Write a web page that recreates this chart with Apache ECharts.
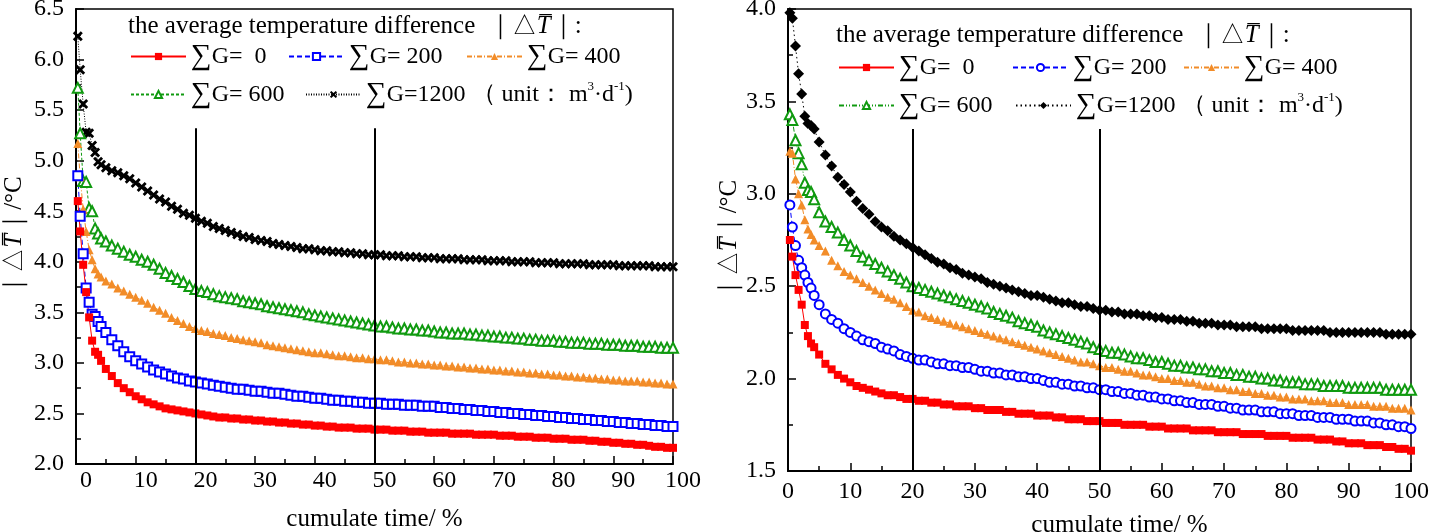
<!DOCTYPE html>
<html><head><meta charset="utf-8">
<script src="https://cdn.jsdelivr.net/npm/echarts@6/dist/echarts.min.js"></script>
<style>html,body{margin:0;padding:0;background:#fff}#c{width:1431px;height:532px}</style>
</head><body><div id="c"></div>
<script>
// shared x positions (cumulate time, %)
const X = [0.3,0.7,1.2,1.7,2.2,2.7,3.2,3.7,4.2,
5,6,7,8,9,10,11,12,13,14,
15,16,17,18,19,20,21,22,23,24,
25,26,27,28,29,30,31,32,33,34,
35,36,37,38,39,40,41,42,43,44,
45,46,47,48,49,50,51,52,53,54,
55,56,57,58,59,60,61,62,63,64,
65,66,67,68,69,70,71,72,73,74,
75,76,77,78,79,80,81,82,83,84,
85,86,87,88,89,90,91,92,93,94,
95,96,97,98,99,100];

// LEFT chart
const L0 = [4.60,4.30,3.97,3.70,3.45,3.22,3.11,3.08,3.02,
2.94,2.87,2.80,2.75,2.71,2.67,2.64,2.61,2.59,2.57,
2.55,2.54,2.53,2.52,2.51,2.50,2.49,2.48,2.47,2.46,
2.46,2.45,2.45,2.44,2.44,2.43,2.43,2.42,2.42,2.41,
2.41,2.40,2.40,2.39,2.39,2.38,2.38,2.37,2.37,2.36,
2.36,2.36,2.35,2.35,2.35,2.34,2.34,2.34,2.33,2.33,
2.33,2.32,2.32,2.32,2.31,2.31,2.31,2.31,2.30,2.30,
2.30,2.30,2.29,2.29,2.29,2.29,2.28,2.28,2.28,2.27,
2.27,2.27,2.26,2.26,2.26,2.25,2.25,2.25,2.24,2.24,
2.24,2.23,2.23,2.22,2.22,2.21,2.21,2.20,2.20,2.19,
2.19,2.18,2.17,2.17,2.16,2.16];
const L200 = [4.85,4.45,4.08,3.74,3.60,3.48,3.46,3.41,3.36,
3.30,3.23,3.17,3.11,3.06,3.02,2.99,2.96,2.93,2.91,
2.89,2.87,2.85,2.84,2.82,2.81,2.80,2.79,2.78,2.77,
2.76,2.75,2.74,2.74,2.73,2.72,2.72,2.71,2.70,2.70,
2.69,2.68,2.67,2.67,2.66,2.65,2.65,2.64,2.63,2.63,
2.62,2.62,2.61,2.61,2.60,2.60,2.60,2.59,2.59,2.59,
2.58,2.58,2.58,2.57,2.57,2.57,2.56,2.56,2.55,2.55,
2.54,2.54,2.53,2.53,2.52,2.52,2.51,2.51,2.50,2.50,
2.49,2.49,2.48,2.48,2.47,2.47,2.46,2.46,2.45,2.45,
2.44,2.44,2.43,2.43,2.42,2.42,2.41,2.41,2.40,2.40,
2.39,2.39,2.38,2.38,2.37,2.37];
const L400 = [5.17,4.84,4.52,4.30,4.12,4.02,3.93,3.88,3.85,
3.81,3.78,3.74,3.71,3.68,3.65,3.62,3.59,3.55,3.52,
3.49,3.45,3.42,3.39,3.36,3.34,3.32,3.31,3.29,3.28,
3.27,3.25,3.24,3.23,3.22,3.21,3.20,3.18,3.17,3.16,
3.15,3.14,3.13,3.12,3.11,3.10,3.10,3.09,3.08,3.07,
3.07,3.06,3.05,3.05,3.04,3.04,3.03,3.03,3.02,3.01,
3.01,3.00,3.00,2.99,2.99,2.98,2.98,2.97,2.97,2.96,
2.96,2.95,2.95,2.94,2.94,2.93,2.93,2.92,2.92,2.91,
2.91,2.90,2.90,2.89,2.89,2.88,2.88,2.87,2.87,2.86,
2.86,2.85,2.85,2.84,2.84,2.83,2.83,2.82,2.82,2.82,
2.81,2.81,2.80,2.80,2.79,2.79];
const L600 = [5.72,5.27,4.80,4.79,4.53,4.50,4.33,4.28,4.23,
4.20,4.16,4.13,4.10,4.07,4.05,4.02,4.00,3.97,3.93,
3.89,3.86,3.83,3.80,3.76,3.73,3.71,3.70,3.68,3.66,
3.65,3.64,3.63,3.61,3.60,3.59,3.58,3.56,3.55,3.54,
3.53,3.52,3.51,3.50,3.48,3.47,3.46,3.45,3.44,3.43,
3.42,3.41,3.40,3.39,3.38,3.37,3.36,3.36,3.35,3.34,
3.34,3.33,3.33,3.32,3.32,3.31,3.30,3.30,3.29,3.29,
3.29,3.28,3.28,3.27,3.27,3.26,3.26,3.25,3.25,3.24,
3.24,3.23,3.23,3.22,3.22,3.22,3.21,3.21,3.20,3.20,
3.20,3.19,3.19,3.19,3.18,3.18,3.18,3.17,3.17,3.17,
3.16,3.16,3.16,3.15,3.15,3.15];
const L1200 = [6.23,5.90,5.56,5.28,5.27,5.15,5.08,4.99,4.96,
4.93,4.90,4.88,4.85,4.82,4.78,4.74,4.70,4.66,4.62,
4.59,4.55,4.52,4.48,4.46,4.43,4.40,4.38,4.35,4.33,
4.31,4.29,4.27,4.25,4.24,4.22,4.21,4.20,4.18,4.17,
4.16,4.15,4.14,4.13,4.13,4.12,4.11,4.11,4.10,4.10,
4.09,4.09,4.08,4.08,4.07,4.07,4.07,4.06,4.06,4.06,
4.05,4.05,4.05,4.04,4.04,4.04,4.03,4.03,4.03,4.03,
4.02,4.02,4.02,4.02,4.01,4.01,4.01,4.01,4.00,4.00,
4.00,4.00,3.99,3.99,3.99,3.99,3.98,3.98,3.98,3.98,
3.98,3.97,3.97,3.97,3.97,3.97,3.96,3.96,3.96,3.96,
3.96,3.96,3.95,3.95,3.95,3.95];

// RIGHT chart
const R0 = [2.75,2.66,2.56,2.48,2.40,2.29,2.23,2.19,2.17,
2.13,2.08,2.05,2.02,2.00,1.98,1.96,1.95,1.94,1.93,
1.92,1.91,1.91,1.90,1.89,1.89,1.88,1.88,1.87,1.87,
1.86,1.86,1.85,1.85,1.85,1.84,1.84,1.83,1.83,1.83,
1.82,1.82,1.81,1.81,1.81,1.80,1.80,1.80,1.79,1.79,
1.78,1.78,1.78,1.77,1.77,1.77,1.76,1.76,1.76,1.75,
1.75,1.75,1.75,1.74,1.74,1.74,1.73,1.73,1.73,1.73,
1.72,1.72,1.72,1.72,1.71,1.71,1.71,1.71,1.70,1.70,
1.70,1.70,1.69,1.69,1.69,1.69,1.68,1.68,1.68,1.68,
1.67,1.67,1.67,1.66,1.66,1.65,1.65,1.65,1.64,1.64,
1.64,1.63,1.63,1.62,1.62,1.61];
const R200 = [2.94,2.82,2.72,2.64,2.60,2.56,2.52,2.49,2.45,
2.40,2.35,2.32,2.30,2.27,2.25,2.23,2.21,2.20,2.19,
2.17,2.16,2.15,2.13,2.12,2.11,2.10,2.10,2.09,2.08,
2.08,2.07,2.07,2.06,2.06,2.05,2.04,2.04,2.03,2.03,
2.02,2.02,2.01,2.01,2.00,2.00,1.99,1.98,1.98,1.97,
1.97,1.96,1.96,1.95,1.95,1.94,1.94,1.93,1.93,1.92,
1.92,1.91,1.91,1.90,1.90,1.89,1.89,1.88,1.88,1.87,
1.87,1.86,1.86,1.86,1.85,1.85,1.84,1.84,1.83,1.83,
1.83,1.82,1.82,1.82,1.81,1.81,1.81,1.80,1.80,1.80,
1.79,1.79,1.79,1.78,1.78,1.78,1.77,1.77,1.77,1.76,
1.76,1.75,1.75,1.74,1.74,1.73];
const R400 = [3.23,3.22,3.08,3.00,2.94,2.86,2.81,2.78,2.75,
2.72,2.69,2.64,2.61,2.58,2.56,2.54,2.52,2.50,2.48,
2.46,2.44,2.43,2.41,2.39,2.37,2.36,2.34,2.33,2.32,
2.31,2.30,2.29,2.28,2.27,2.26,2.25,2.24,2.23,2.22,
2.21,2.20,2.19,2.18,2.17,2.16,2.15,2.14,2.13,2.12,
2.11,2.10,2.09,2.09,2.08,2.07,2.06,2.06,2.05,2.04,
2.04,2.03,2.02,2.02,2.01,2.00,2.00,1.99,1.99,1.98,
1.98,1.97,1.96,1.96,1.95,1.95,1.94,1.94,1.93,1.93,
1.92,1.92,1.91,1.91,1.90,1.90,1.89,1.89,1.89,1.88,
1.88,1.88,1.87,1.87,1.87,1.86,1.86,1.86,1.86,1.85,
1.85,1.85,1.84,1.84,1.84,1.83];
const R600 = [3.43,3.40,3.29,3.22,3.16,3.06,3.02,3.01,2.97,
2.90,2.85,2.82,2.79,2.75,2.72,2.69,2.66,2.64,2.62,
2.60,2.58,2.56,2.54,2.52,2.50,2.49,2.48,2.47,2.46,
2.45,2.44,2.43,2.42,2.41,2.40,2.39,2.38,2.36,2.35,
2.34,2.33,2.31,2.30,2.29,2.28,2.26,2.25,2.24,2.23,
2.22,2.21,2.20,2.19,2.17,2.16,2.15,2.14,2.14,2.13,
2.12,2.11,2.11,2.10,2.09,2.09,2.08,2.07,2.07,2.06,
2.06,2.05,2.05,2.04,2.04,2.03,2.03,2.02,2.02,2.01,
2.01,2.00,2.00,1.99,1.99,1.98,1.98,1.98,1.97,1.97,
1.97,1.96,1.96,1.96,1.96,1.95,1.95,1.95,1.95,1.95,
1.95,1.94,1.94,1.94,1.94,1.94];
const R1200 = [3.98,3.95,3.80,3.65,3.54,3.42,3.38,3.37,3.35,
3.28,3.21,3.15,3.09,3.05,3.01,2.96,2.92,2.89,2.85,
2.82,2.80,2.77,2.75,2.73,2.71,2.69,2.67,2.65,2.63,
2.62,2.60,2.59,2.57,2.56,2.55,2.54,2.52,2.51,2.50,
2.49,2.48,2.47,2.46,2.45,2.45,2.44,2.43,2.42,2.41,
2.41,2.40,2.39,2.39,2.38,2.37,2.37,2.36,2.36,2.35,
2.35,2.35,2.34,2.34,2.33,2.33,2.32,2.32,2.32,2.31,
2.31,2.30,2.30,2.30,2.29,2.29,2.29,2.28,2.28,2.28,
2.28,2.27,2.27,2.27,2.27,2.27,2.26,2.26,2.26,2.26,
2.26,2.26,2.25,2.25,2.25,2.25,2.25,2.25,2.25,2.25,
2.25,2.24,2.24,2.24,2.24,2.24];

// reference vertical lines
const markX = [20, 50];
const leftMarkTop = 5.32, rightMarkTop = 3.35;

const legendNames = {
  'L0':'=  0','L200':'= 200','L400':'= 400','L600':'= 600','L1200':'U',
  'R0':'=  0','R200':'= 200','R400':'= 400','R600':'= 600','R1200':'U'
};
const FONT = "'Liberation Serif','Times New Roman',serif";
const BLACK = '#000';
const C = {red:'#ff0000', blue:'#0000ff', orange:'#f28c28', green:'#109a10', black:'#000000'};
const crossPath = 'path://M0,2L2,0L5,3L8,0L10,2L7,5L10,8L8,10L5,7L2,10L0,8L3,5Z';

function pairs(v){ return X.map((x,i)=>[x, v[i]]); }
function mk(name, gi, vals, color, symbol, size, dash, hollow, extra){
  const s = {
    name, type:'line', xAxisIndex:gi, yAxisIndex:gi, data:pairs(vals),
    symbol, symbolSize:size, showAllSymbol:true, clip:false,
    lineStyle:{color, width:1, type:dash},
    itemStyle: hollow ? {color, borderColor:color, borderWidth:1.6} : {color, borderColor:color, borderWidth:0},
    emphasis:{disabled:true}, z: 3
  };
  return Object.assign(s, extra||{});
}
function vmark(top, bottom){
  return {markLine:{symbol:'none', silent:true, label:{show:false}, animation:false,
    lineStyle:{color:BLACK, width:2, type:'solid'},
    data: markX.map(x=>[{coord:[x,bottom]},{coord:[x,top]}])}};
}

const series = [
  mk('L1200',0,L1200,C.black,crossPath,10,[1,1.5],false),
  mk('L600',0,L600,C.green,'emptyTriangle',10,[3,2],true),
  mk('L400',0,L400,C.orange,'triangle',9,[5,2,1,2],false),
  mk('L200',0,L200,C.blue,'emptyRect',9,[5,3],true),
  mk('L0',0,L0,C.red,'rect',8,'solid',false, vmark(leftMarkTop,2.0)),
  mk('R1200',1,R1200,C.black,'diamond',11,[1.5,3],false),
  mk('R600',1,R600,C.green,'emptyTriangle',10,[5,2,1,2,1,2],true),
  mk('R400',1,R400,C.orange,'triangle',9,[5,2,1,2],false),
  mk('R200',1,R200,C.blue,'emptyCircle',9,[5,3],true),
  mk('R0',1,R0,C.red,'rect',8,'solid',false, vmark(rightMarkTop,1.5)),
];

const richLeg = {
  a:{fontFamily:FONT, fontSize:24, color:BLACK, lineHeight:28, fontWeight:'normal'},
  g:{fontFamily:FONT, fontSize:29, color:BLACK, lineHeight:28, fontWeight:'normal'},
  s:{fontFamily:FONT, fontSize:13, color:BLACK, lineHeight:28, verticalAlign:'top', fontWeight:'normal'}
};
function leg(name, left, cy){
  return {data:[name], left, top:cy-14, padding:0, itemWidth:55, itemHeight:9, itemGap:5,
    selectedMode:false,
    formatter: n => legendNames[n]==='U' ? '{g|∑}{a|G=1200 （ unit： m}{s|3}{a|·d}{s|-1}{a|)}' : '{g|∑}{a|G'+legendNames[n]+'}',
    textStyle:{fontFamily:FONT, fontSize:24, color:BLACK, rich:richLeg}};
}
const legends = [
  leg('L0',130,56), leg('L200',288,56), leg('L400',466,56), leg('L600',130,94), leg('L1200',305,94),
  leg('R0',838,67), leg('R200',1012,67), leg('R400',1183,67), leg('R600',838,105), leg('R1200',1015,105)
];

const richT = {
  a:{fontFamily:FONT, fontSize:25, color:BLACK, fontWeight:'normal'},
  t:{fontFamily:FONT, fontSize:25, color:BLACK, fontStyle:'italic', fontWeight:'normal'}
};
const titleText = '{a|the average temperature difference  ｜△}{t|T\u0305}{a|｜:}';
const titles = [
  {text:titleText, left:128, top:14, padding:0, textStyle:{fontWeight:'normal', rich:richT}},
  {text:titleText, left:836, top:23, padding:0, textStyle:{fontWeight:'normal', rich:richT}}
];

function xAxis(gi, labelPad, margin, nameGap, namePad){
  return {type:'value', gridIndex:gi, min:0, max:100, interval:10,
    name:'cumulate time/ %', nameLocation:'middle', nameGap,
    nameTextStyle:{fontFamily:FONT, fontSize:25, color:BLACK, padding:namePad},
    axisLine:{show:true, lineStyle:{color:BLACK, width:2}},
    axisTick:{show:true, inside:true, length:8, lineStyle:{color:BLACK, width:1.5}},
    minorTick:{show:true, splitNumber:2, length:5, lineStyle:{color:BLACK, width:1.5}},
    axisLabel:{fontFamily:FONT, fontSize:24, color:BLACK, margin, padding:labelPad},
    splitLine:{show:false}};
}
const nameRich = {
  a:{fontFamily:FONT, fontSize:25, color:BLACK},
  t:{fontFamily:FONT, fontSize:25, color:BLACK, fontStyle:'italic'}
};
function yAxis(gi, min, max, nameGap){
  return {type:'value', gridIndex:gi, min, max, interval:0.5,
    name:'{a|｜△}{t|T\u0305}{a|｜/°C}', nameLocation:'middle', nameGap, nameRotate:90,
    nameTextStyle:{rich:nameRich},
    axisLine:{show:true, lineStyle:{color:BLACK, width:2}},
    axisTick:{show:true, inside:true, length:8, lineStyle:{color:BLACK, width:1.5}},
    minorTick:{show:true, splitNumber:2, length:5, lineStyle:{color:BLACK, width:1.5}},
    axisLabel:{fontFamily:FONT, fontSize:24, color:BLACK, margin:12, formatter:v=>v.toFixed(1)},
    splitLine:{show:false}};
}

const option = {
  animation:false,
  backgroundColor:'#fff',
  title: titles,
  legend: legends,
  grid:[
    {left:76, top:9, width:597, height:455, show:true, borderColor:BLACK, borderWidth:1.5, backgroundColor:'transparent', containLabel:false, outerBoundsMode:'none'},
    {left:788, top:9, width:623, height:462, show:true, borderColor:BLACK, borderWidth:1.5, backgroundColor:'transparent', containLabel:false, outerBoundsMode:'none'}
  ],
  xAxis:[ xAxis(0,[0,0,0,20],5,43,[0,0,0,0]), xAxis(1,[0,0,0,0],9,42,[0,0,0,40]) ],
  yAxis:[ yAxis(0,2.0,6.5,49), yAxis(1,1.5,4.0,46) ],
  series
};
const chart = echarts.init(document.getElementById('c'), null, {renderer:'canvas'});
chart.setOption(option);
</script></body></html>
